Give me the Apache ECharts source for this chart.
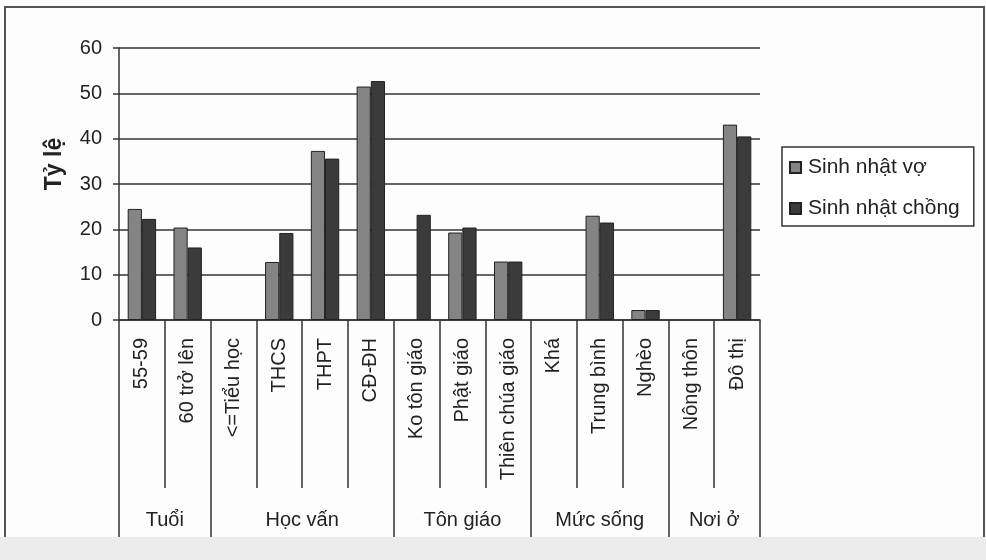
<!DOCTYPE html>
<html>
<head>
<meta charset="utf-8">
<script src="https://cdn.jsdelivr.net/npm/echarts@6/dist/echarts.min.js"></script>
<style>
  html, body { margin: 0; padding: 0; background: #ffffff; }
  #chart { width: 986px; height: 560px; }
</style>
</head>
<body>
<div id="chart"></div>
<script>
// Categories, in display order
const categories = ['55-59', '60 trở lên', '<=Tiểu học', 'THCS', 'THPT', 'CĐ-ĐH',
  'Ko tôn giáo', 'Phật giáo', 'Thiên chúa giáo', 'Khá', 'Trung bình', 'Nghèo',
  'Nông thôn', 'Đô thị'];

// Category groups and how many categories each one covers
const groupNames = ['Tuổi', 'Học vấn', 'Tôn giáo', 'Mức sống', 'Nơi ở'];
const groupSizes = [2, 4, 3, 3, 2];

// Series values (%); null = no bar
const seriesNames = ['Sinh nhật vợ', 'Sinh nhật chồng'];
const wifeValues = [24.5, 20.4, null, 12.8, 37.3, 51.5, null, 19.3, 12.9, null, 23.0, 2.2, null, 43.1];
const husbandValues = [22.3, 16.0, null, 19.2, 35.6, 52.7, 23.2, 20.4, 12.9, null, 21.5, 2.2, null, 40.5];

const yTicks = [0, 10, 20, 30, 40, 50, 60];
const yTitle = 'Tỷ lệ';

// Group boundaries and label centres, in category units
const groupBounds = [0];
groupSizes.forEach(s => groupBounds.push(groupBounds[groupBounds.length - 1] + s));
const groupCenters = groupNames.map((_, i) => (groupBounds[i] + groupBounds[i + 1]) / 2);

const FONT = '"Liberation Sans", Arial, sans-serif';
const INK = '#222';
const LINE = '#333';

const chart = echarts.init(document.getElementById('chart'), null, { renderer: 'canvas' });

chart.setOption({
  backgroundColor: '#fdfdfd',
  animation: false,
  textStyle: { fontFamily: FONT, color: INK },
  grid: { left: 119, right: 226, top: 48, bottom: 240, containLabel: false },
  legend: {
    orient: 'vertical',
    left: 782,
    top: 147,
    padding: [10, 14, 7, 7],
    icon: 'rect',
    itemWidth: 11,
    itemHeight: 11,
    itemGap: 20,
    borderColor: LINE,
    borderWidth: 1.5,
    backgroundColor: '#fff',
    textStyle: { fontFamily: FONT, fontSize: 21, color: INK, padding: [0, 0, 0, 2] },
    data: seriesNames
  },
  xAxis: [
    {
      type: 'category',
      data: categories,
      position: 'bottom',
      axisLine: { show: true, lineStyle: { color: LINE, width: 1.5 } },
      axisTick: { show: true, interval: 0, length: 168, alignWithLabel: false,
        lineStyle: { color: LINE, width: 1.5 } },
      axisLabel: { interval: 0, rotate: 90, margin: 18, fontSize: 20, color: INK, fontFamily: FONT },
      splitLine: { show: false }
    },
    {
      type: 'value',
      min: 0,
      max: categories.length,
      position: 'bottom',
      axisLine: { show: false },
      splitLine: { show: false },
      axisTick: { show: true, customValues: groupBounds, length: 217,
        lineStyle: { color: LINE, width: 1.5 } },
      axisLabel: {
        customValues: groupCenters,
        margin: 190,
        fontSize: 20,
        color: INK,
        fontFamily: FONT,
        formatter: v => groupNames[groupCenters.indexOf(v)] || ''
      }
    }
  ],
  yAxis: {
    type: 'value',
    min: 0,
    max: 60,
    interval: 10,
    axisLine: { show: true, lineStyle: { color: LINE, width: 1.5 } },
    axisTick: { show: true, length: 6, lineStyle: { color: LINE, width: 1.5 } },
    axisLabel: { margin: 17, fontSize: 20, color: INK, fontFamily: FONT,
      formatter: v => (yTicks.indexOf(v) >= 0 ? String(v) : '') },
    splitLine: { show: true, lineStyle: { color: LINE, width: 1.5 } }
  },
  series: [
    {
      name: seriesNames[0],
      type: 'bar',
      xAxisIndex: 0,
      data: wifeValues,
      barGap: '0%',
      barCategoryGap: '38%',
      itemStyle: { color: '#848484', borderColor: '#222', borderWidth: 1 }
    },
    {
      name: seriesNames[1],
      type: 'bar',
      xAxisIndex: 0,
      data: husbandValues,
      barGap: '0%',
      barCategoryGap: '38%',
      itemStyle: { color: '#3b3b3b', borderColor: '#222', borderWidth: 1 }
    }
  ],
  graphic: [
    // value-axis title
    { type: 'text', x: 55, y: 164, rotation: Math.PI / 2, silent: true,
      style: { text: yTitle, fill: INK, font: 'bold 23px ' + FONT,
        textAlign: 'center', textVerticalAlign: 'middle' } },
    // outer frame
    { type: 'rect', shape: { x: 5, y: 7, width: 979, height: 540 }, silent: true, z: 100,
      style: { fill: 'none', stroke: '#555', lineWidth: 2 } },
    // pale strip under the chart
    { type: 'rect', shape: { x: 0, y: 537, width: 986, height: 23 }, silent: true, z: 101,
      style: { fill: '#ececec' } }
  ]
});
</script>
</body>
</html>
